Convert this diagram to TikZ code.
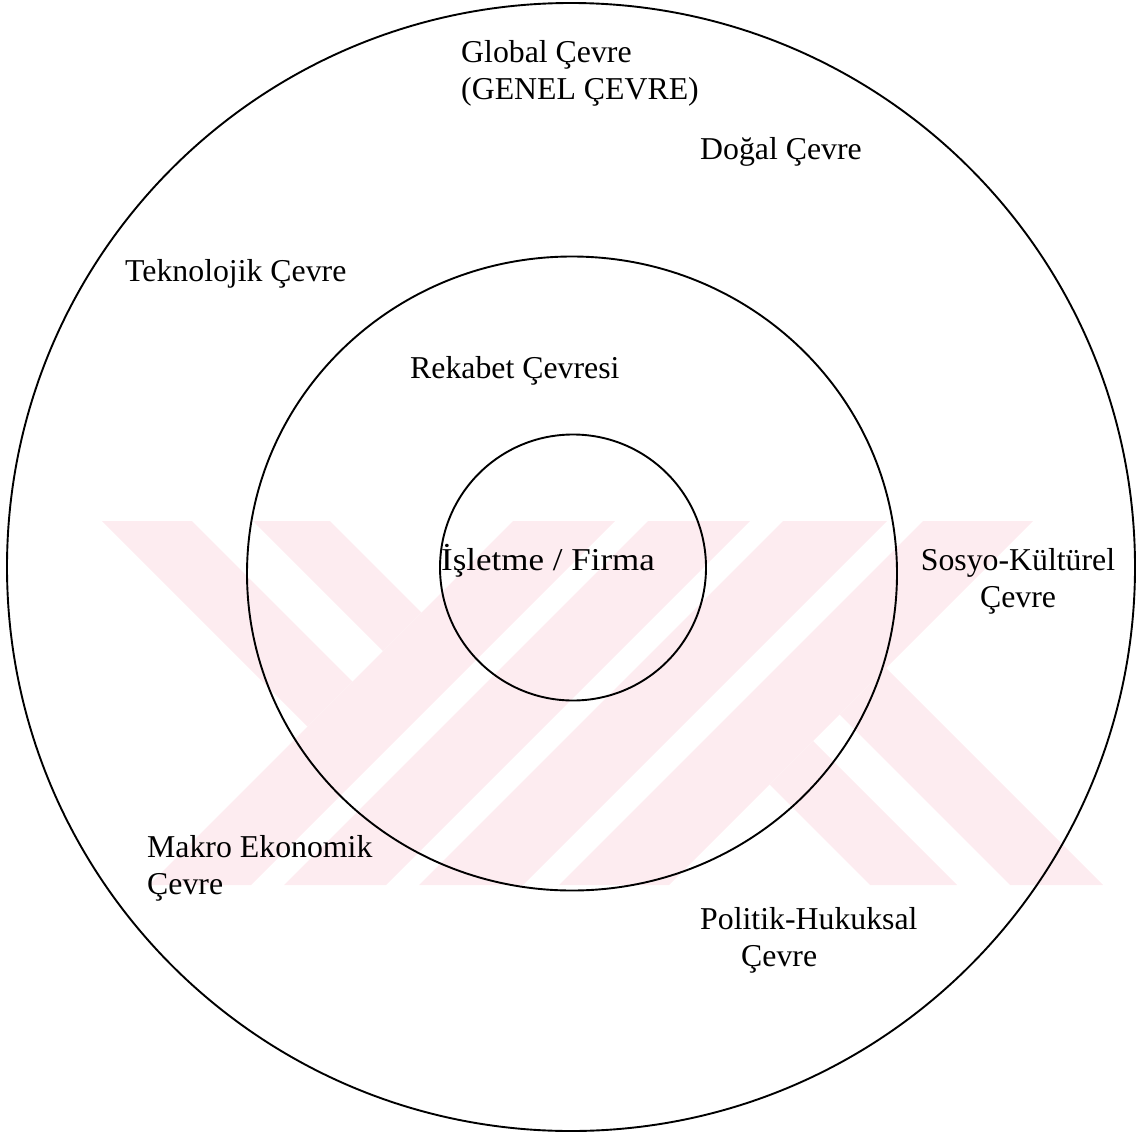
\documentclass[tikz,border=0pt]{standalone}
\usepackage{fontspec}
\usepackage{graphicx}
\setmainfont{Liberation Serif}
\definecolor{wm}{RGB}{253,236,240}
\begin{document}
\begin{tikzpicture}[x=1pt,y=-1pt,
  lbl/.style={inner sep=0pt, font=\fontsize{31.8}{37}\selectfont},
  ring/.style={draw=black, line width=1.9pt},
  wmark/.style={fill=wm, draw=none}]
\useasboundingbox (0,0) rectangle (1139,1134);
% watermark
\fill[wmark] (102,521) -- (192,521) -- (352.5,681.5) -- (307.5,726.5) -- cycle;
\fill[wmark] (253,521) -- (330,521) -- (421.5,612.5) -- (383,651) -- cycle;
\fill[wmark] (513,521) -- (615,521) -- (251,885) -- (149,885) -- cycle;
\fill[wmark] (648,521) -- (750,521) -- (386,885) -- (284,885) -- cycle;
\fill[wmark] (783,521) -- (887,521) -- (523,885) -- (419,885) -- cycle;
\fill[wmark] (923,521) -- (1033,521) -- (669,885) -- (559,885) -- cycle;
\fill[wmark] (769.5,784.5) -- (813,741) -- (957,885) -- (870,885) -- cycle;
\fill[wmark] (839.5,714.5) -- (886,668) -- (1103,885) -- (1010,885) -- cycle;
% rings
\draw[ring] (571,567) circle [radius=564pt];
\draw[ring] (572,573.5) ellipse [x radius=325pt, y radius=317pt];
\draw[ring] (573,567.5) circle [radius=133pt];
% labels
\node[lbl, anchor=base west, align=left] (global) at (461,100) {Global Çevre\\(GENEL ÇEVRE)};
\node[lbl, anchor=base west] (dogal) at (700,160) {Doğal Çevre};
\node[lbl, anchor=base west] (tekno) at (125,281) {Teknolojik Çevre};
\node[lbl, anchor=base west] (rekabet) at (410,378) {Rekabet Çevresi};
\node[lbl, anchor=base west] (firma) at (441,570) {\scalebox{1.1}[1]{İşletme / Firma}};
\node[lbl, anchor=base, align=center] (sosyo) at (1018,607) {Sosyo-Kültürel\\Çevre};
\node[lbl, anchor=base west, align=left] (makro) at (147,894) {Makro Ekonomik\\Çevre};
\node[lbl, anchor=base west, align=left] (politik) at (700,966) {Politik-Hukuksal\\\hspace*{41pt}Çevre};
\end{tikzpicture}
\end{document}
